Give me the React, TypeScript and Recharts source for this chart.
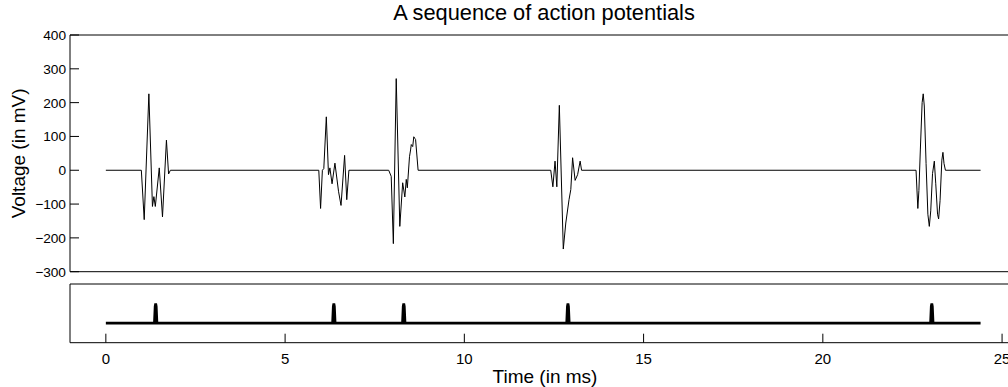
import { Label, Line, LineChart, ReferenceArea, XAxis, YAxis } from "recharts";

// recorded voltage trace (ms, mV)
const traceTime = [
  0, 0.99, 1.07, 1.2, 1.3, 1.34, 1.38, 1.49, 1.58, 1.69, 1.75, 1.8,
  5.94, 5.99, 6.04, 6.08, 6.15, 6.21, 6.25, 6.31, 6.39, 6.49, 6.56, 6.66, 6.72, 6.78,
  7.89, 7.96, 8.02, 8.1, 8.2, 8.28, 8.34, 8.38, 8.41, 8.47, 8.5, 8.52, 8.56, 8.59, 8.62, 8.64, 8.71,
  12.41, 12.47, 12.53, 12.58, 12.65, 12.76, 12.83, 12.92, 12.97, 13.02, 13.09, 13.16, 13.23, 13.27,
  22.6, 22.65, 22.68, 22.72, 22.77, 22.8, 22.83, 22.88, 22.93, 22.97, 23.01, 23.06, 23.11, 23.15,
  23.2, 23.23, 23.27, 23.32, 23.35, 23.38, 23.42,
  24.4,
];
const traceVoltage = [
  0, 0, -146, 226, -107, -78, -107, 7, -138, 89, -11, 0,
  0, -113, 0, 5, 158, -13, 7, -40, 21, -62, -104, 44, -87, 0,
  0, -18, -217, 271, -166, -37, -79, -27, -52, 40, 60, 76, 70, 99, 94, 91, 0,
  0, -49, 27, -49, 192, -233, -156, -87, -57, 37, -30, -13, 27, 0,
  0, -113, -60, 60, 200, 226, 190, 20, -130, -166, -120, -10, 27, -40,
  -130, -144, -90, 30, 53, 20, 0,
  0,
];

// spike train (detected events)
const pulseTime = [
  0,
  1.355, 1.375, 1.39, 1.405, 1.425,
  6.325, 6.345, 6.36, 6.375, 6.395,
  8.275, 8.295, 8.31, 8.325, 8.345,
  12.855, 12.875, 12.89, 12.905, 12.925,
  23.005, 23.025, 23.04, 23.055, 23.075,
  24.4,
];
const pulseLevel = [
  0,
  0, 0.85, 1, 0.85, 0,
  0, 0.85, 1, 0.85, 0,
  0, 0.85, 1, 0.85, 0,
  0, 0.85, 1, 0.85, 0,
  0, 0.85, 1, 0.85, 0,
  0,
];

const voltageTicks = [-300, -200, -100, 0, 100, 200, 300, 400];
const timeTicks = [0, 5, 10, 15, 20, 25];

const FONT = '"Liberation Sans", Arial, Helvetica, sans-serif';
const T_MIN = -1;
const T_MAX = 25.5;

const traceData = traceTime.map((t, i) => ({ t, v: traceVoltage[i] }));
const pulseData = pulseTime.map((t, i) => ({ t, v: pulseLevel[i] }));

const fmt = (v: number) => String(v).replace("-", "\u2212");

function VoltageTick({ x, y, payload }: any) {
  return (
    <g>
      <line x1={x} x2={x + 9} y1={y} y2={y} stroke="#000" />
      <text x={x - 4} y={y} dy="0.36em" textAnchor="end" fontSize={13.7} fontFamily={FONT} fill="#000">
        {fmt(payload.value)}
      </text>
    </g>
  );
}

function TimeTick({ x, y, payload }: any) {
  return (
    <g>
      <line x1={x} x2={x} y1={y} y2={y - 9} stroke="#000" />
      <text x={x} y={y + 21} textAnchor="middle" fontSize={15} fontFamily={FONT} fill="#000">
        {payload.value}
      </text>
    </g>
  );
}

function TopTick({ x, y }: any) {
  return <line x1={x} x2={x} y1={y} y2={y + 9} stroke="#000" />;
}

export default function App() {
  return (
    <div style={{ position: "relative", width: 1008, height: 387, overflow: "hidden", background: "#fff", fontFamily: FONT }}>
      <style>{"body{margin:0}"}</style>
      <div
        style={{
          position: "absolute",
          top: 1,
          left: 0,
          width: 1088,
          textAlign: "center",
          fontSize: 21.8,
          lineHeight: "24px",
          color: "#000",
        }}
      >
        A sequence of action potentials
      </div>

      <div style={{ position: "absolute", top: 0, left: 0 }}>
        <LineChart width={1040} height={280} data={traceData} margin={{ top: 35, right: 20, bottom: 8.3, left: 0 }}>
          <XAxis dataKey="t" type="number" domain={[T_MIN, T_MAX]} allowDataOverflow hide />
          <YAxis
            type="number"
            domain={[-300, 400]}
            ticks={voltageTicks}
            allowDataOverflow
            width={70}
            interval={0}
            axisLine={false}
            tickLine={false}
            tickSize={0}
            tickMargin={0}
            tick={(p: any) => <VoltageTick {...p} />}
          >
            <Label
              value="Voltage (in mV)"
              angle={-90}
              position="insideLeft"
              offset={18}
              style={{ textAnchor: "middle" }}
              fontSize={19}
              fill="#000"
              fontFamily={FONT}
            />
          </YAxis>
          <ReferenceArea x1={T_MIN} x2={T_MAX} y1={-300} y2={400} fill="none" fillOpacity={0} stroke="#000" strokeWidth={1} />
          <Line dataKey="v" type="linear" stroke="#000" strokeWidth={1} dot={false} isAnimationActive={false} />
        </LineChart>
      </div>

      <div style={{ position: "absolute", top: 0, left: 0 }}>
        <LineChart width={1040} height={387} data={pulseData} margin={{ top: 284, right: 20, bottom: 0, left: 70 }}>
          <XAxis
            dataKey="t"
            type="number"
            domain={[T_MIN, T_MAX]}
            ticks={timeTicks}
            allowDataOverflow
            interval={0}
            height={44.3}
            axisLine={false}
            tickLine={false}
            tickSize={0}
            tickMargin={0}
            tick={(p: any) => <TimeTick {...p} />}
          >
            <Label value="Time (in ms)" position="insideBottom" offset={4.3} fontSize={19} fill="#000" fontFamily={FONT} />
          </XAxis>
          <XAxis
            xAxisId="top"
            orientation="top"
            type="number"
            domain={[T_MIN, T_MAX]}
            ticks={timeTicks}
            allowDataOverflow
            interval={0}
            height={0}
            axisLine={false}
            tickLine={false}
            tickSize={0}
            tickMargin={0}
            tick={(p: any) => <TopTick {...p} />}
          />
          <YAxis type="number" domain={[-1, 2]} allowDataOverflow hide />
          <ReferenceArea x1={T_MIN} x2={T_MAX} y1={-1} y2={2} fill="none" fillOpacity={0} stroke="#000" strokeWidth={1} />
          <Line dataKey="v" type="linear" stroke="#000" strokeWidth={2.7} dot={false} isAnimationActive={false} />
        </LineChart>
      </div>
    </div>
  );
}
